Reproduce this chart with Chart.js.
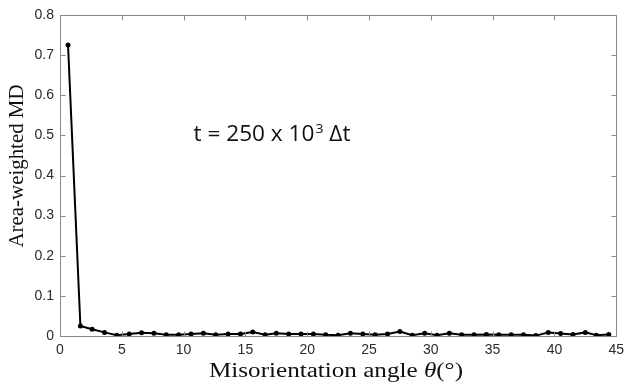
<!DOCTYPE html>
<html>
<head>
<meta charset="utf-8">
<script src="https://cdn.jsdelivr.net/npm/chart.js@4"></script>
<style>
  html, body { margin: 0; padding: 0; background: #fff; }
  #wrap { width: 630px; height: 389px; position: relative; }
</style>
</head>
<body>
<div id="wrap"><canvas id="c" width="630" height="389"></canvas></div>
<script>
// ---- data ----
const angles = [0.65, 1.65, 2.6, 3.6, 4.6, 5.6, 6.6, 7.6, 8.6, 9.6, 10.6, 11.6, 12.6, 13.6, 14.6, 15.6, 16.6,
  17.5, 18.5, 19.5, 20.5, 21.5, 22.5, 23.5, 24.5, 25.5, 26.5, 27.5, 28.5, 29.5, 30.5, 31.5, 32.5, 33.5,
  34.5, 35.5, 36.5, 37.5, 38.5, 39.5, 40.5, 41.5, 42.5, 43.4, 44.4];
const mdValues = [0.725, 0.025, 0.017, 0.009, 0.002, 0.005, 0.008, 0.007, 0.003, 0.003, 0.005, 0.007, 0.003,
  0.005, 0.005, 0.010, 0.003, 0.007, 0.005, 0.005, 0.005, 0.003, 0.002, 0.007, 0.005, 0.003, 0.005, 0.011,
  0.002, 0.007, 0.002, 0.007, 0.003, 0.003, 0.004, 0.003, 0.003, 0.003, 0.001, 0.009, 0.006, 0.004, 0.009,
  0.002, 0.004];
const xTicks = [0, 5, 10, 15, 20, 25, 30, 35, 40, 45];
const yTicks = [0, 0.1, 0.2, 0.3, 0.4, 0.5, 0.6, 0.7, 0.8];
// x title pieces: [text, italic?]
const xTitleParts = [['Misorientation angle ', false], ['θ', true], ['(°)', false]];
const yTitle = 'Area-weighted MD';
const annoMain = 't = 250 x 10';
const annoSup = '3';
const annoTail = ' Δt';
const annoPos = { x: 10.8, y: 0.486 };

const points = angles.map((a, i) => ({ x: a, y: mdValues[i] }));

const SERIF = '"Liberation Serif", "DejaVu Serif", serif';

// draw text pieces centred at (cx, baseline cy), stretched horizontally to a target width
function fitParts(ctx, parts, size, cx, cy, target) {
  const fonts = parts.map(p => (p[1] ? 'italic ' : '') + size + 'px ' + SERIF);
  const widths = parts.map((p, i) => { ctx.font = fonts[i]; return ctx.measureText(p[0]).width; });
  const total = widths.reduce((a, b) => a + b, 0);
  const k = target / total;
  ctx.save();
  ctx.translate(cx, cy);
  ctx.scale(k, 1);
  ctx.textAlign = 'left';
  let x = -total / 2;
  parts.forEach((p, i) => { ctx.font = fonts[i]; ctx.fillText(p[0], x, 0); x += widths[i]; });
  ctx.restore();
}

const framePlugin = {
  id: 'frame',
  afterDraw(chart) {
    const ctx = chart.ctx;
    const ca = chart.chartArea;
    const xs = chart.scales.x, ys = chart.scales.y;
    ctx.save();
    // box
    ctx.strokeStyle = '#8a8a8a';
    ctx.lineWidth = 1;
    const L = Math.round(ca.left) + 0.5, R = Math.round(ca.right) + 0.5;
    const T = Math.round(ca.top) + 0.5, B = Math.round(ca.bottom) + 0.5;
    ctx.strokeRect(L, T, R - L, B - T);
    // inward ticks on all sides
    const tl = 5;
    ctx.beginPath();
    xTicks.forEach(v => {
      const px = Math.round(xs.getPixelForValue(v)) + 0.5;
      ctx.moveTo(px, B); ctx.lineTo(px, B - tl);
      ctx.moveTo(px, T); ctx.lineTo(px, T + tl);
    });
    yTicks.forEach(v => {
      const py = Math.round(ys.getPixelForValue(v)) + 0.5;
      ctx.moveTo(L, py); ctx.lineTo(L + tl, py);
      ctx.moveTo(R, py); ctx.lineTo(R - tl, py);
    });
    ctx.stroke();

    // axis titles
    ctx.fillStyle = '#111';
    ctx.textBaseline = 'alphabetic';
    fitParts(ctx, xTitleParts, 20, 336, 377, 254);
    ctx.save();
    ctx.translate(23, 166);
    ctx.rotate(-Math.PI / 2);
    fitParts(ctx, [[yTitle, false]], 20, 0, 0, 163);
    ctx.restore();

    // annotation
    const ax = xs.getPixelForValue(annoPos.x);
    const ay = ys.getPixelForValue(annoPos.y);
    ctx.textAlign = 'left';
    ctx.fillStyle = '#111';
    const big = '21px "Open Sans", "Liberation Sans", sans-serif';
    const small = '13px "Open Sans", "Liberation Sans", sans-serif';
    ctx.font = big;
    const w1 = ctx.measureText(annoMain).width;
    ctx.font = small;
    const w2 = ctx.measureText(annoSup).width;
    ctx.font = big;
    const w3 = ctx.measureText(annoTail).width;
    const k = 157 / (w1 + w2 + 1 + w3);
    ctx.save();
    ctx.translate(ax, ay);
    ctx.scale(k, 1);
    ctx.font = big;
    ctx.fillText(annoMain, 0, 0);
    ctx.font = small;
    ctx.fillText(annoSup, w1 + 1, -8);
    ctx.font = big;
    ctx.fillText(annoTail, w1 + w2 + 1, 0);
    ctx.restore();
    ctx.restore();
  }
};

new Chart(document.getElementById('c'), {
  type: 'scatter',
  data: {
    datasets: [{
      data: points,
      showLine: true,
      borderColor: '#000',
      backgroundColor: '#000',
      borderWidth: 2,
      pointRadius: 2.5,
      pointBorderWidth: 0,
      tension: 0
    }]
  },
  options: {
    responsive: false,
    animation: false,
    layout: { padding: { top: 15, right: 6, left: 0, bottom: 0 } },
    plugins: { legend: { display: false }, tooltip: { enabled: false } },
    scales: {
      x: {
        type: 'linear', min: 0, max: 45,
        afterBuildTicks: s => { s.ticks = xTicks.map(v => ({ value: v })); },
        afterFit: s => { s.height = 53; },
        grid: { display: false, drawTicks: false },
        border: { display: false },
        ticks: { color: '#2a2a2a', padding: 6, maxRotation: 0, font: { family: '"Liberation Sans", Arial, sans-serif', size: 14 },
          callback: v => String(v) }
      },
      y: {
        type: 'linear', min: 0, max: 0.8,
        afterBuildTicks: s => { s.ticks = yTicks.map(v => ({ value: v })); },
        afterFit: s => { s.width = 60; },
        grid: { display: false, drawTicks: false },
        border: { display: false },
        ticks: { color: '#2a2a2a', padding: 6, font: { family: '"Liberation Sans", Arial, sans-serif', size: 14 },
          callback: v => (v === 0 ? '0' : Number(v).toFixed(1)) }
      }
    }
  },
  plugins: [framePlugin]
});
</script>
</body>
</html>
